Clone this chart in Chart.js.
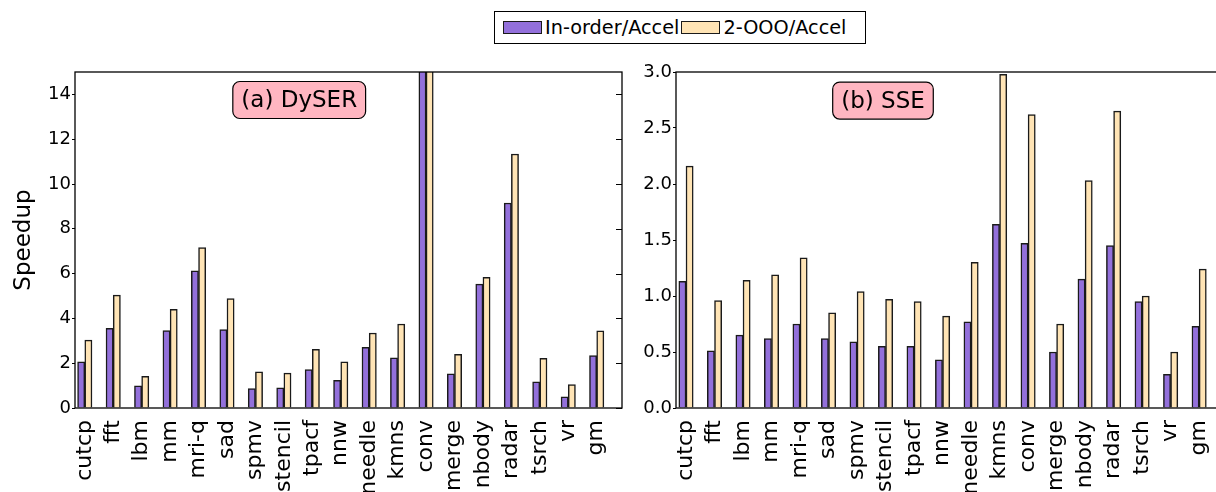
<!DOCTYPE html>
<html>
<head>
<meta charset="utf-8">
<script src="https://cdn.jsdelivr.net/npm/chart.js@4/dist/chart.umd.min.js"></script>
<style>
  html, body { margin: 0; padding: 0; background: #fff; overflow: hidden; }
  body { width: 1216px; height: 492px; position: relative; font-family: 'DejaVu Sans', sans-serif; }
  #dyserChart { position: absolute; left: 0; top: 0; }
  #sseChart { position: absolute; left: 630px; top: 0; }
  #legend {
    position: absolute; left: 494px; top: 11px; width: 372px; height: 33px;
    box-sizing: border-box; border: 1px solid #000; background: #fff;
    display: flex; align-items: center; padding-left: 8px;
    font-size: 19.3px; color: #000; white-space: nowrap;
  }
  #legend .swatch { display: inline-block; width: 37px; height: 11px; border: 1.5px solid #1a1a1a; margin-right: 3px; }
  #legend .item { display: flex; align-items: center; margin-right: 2px; }
</style>
</head>
<body>
<div id="legend"></div>
<canvas id="dyserChart" width="640" height="492"></canvas>
<canvas id="sseChart" width="615" height="492"></canvas>
<script>
// benchmarks, same order in both panels
const benchmarks = ['cutcp', 'fft', 'lbm', 'mm', 'mri-q', 'sad', 'spmv', 'stencil', 'tpacf', 'nnw',
  'needle', 'kmns', 'conv', 'merge', 'nbody', 'radar', 'tsrch', 'vr', 'gm'];

const seriesNames = ['In-order/Accel', '2-OOO/Accel'];
const seriesColors = ['#9370DB', '#FFE4B5'];

// (a) DySER -- conv goes off the top of the axis (clipped at 15)
const dyserInOrder = [2.06, 3.56, 0.99, 3.46, 6.12, 3.50, 0.87, 0.90, 1.72, 1.23,
  2.71, 2.24, 20.0, 1.53, 5.53, 9.15, 1.17, 0.50, 2.34];
const dyserOoo = [3.03, 5.04, 1.41, 4.40, 7.16, 4.89, 1.62, 1.56, 2.62, 2.06,
  3.35, 3.75, 24.0, 2.40, 5.83, 11.34, 2.22, 1.05, 3.44];

// (b) SSE
const sseInOrder = [1.13, 0.51, 0.65, 0.62, 0.75, 0.62, 0.59, 0.55, 0.55, 0.43,
  0.77, 1.64, 1.47, 0.50, 1.15, 1.45, 0.95, 0.30, 0.73];
const sseOoo = [2.16, 0.96, 1.14, 1.19, 1.34, 0.85, 1.04, 0.97, 0.95, 0.82,
  1.30, 2.98, 2.62, 0.75, 2.03, 2.65, 1.00, 0.50, 1.24];

// y tick values
const dyserTicks = [0, 2, 4, 6, 8, 10, 12, 14];
const sseTicks = [0, 0.5, 1.0, 1.5, 2.0, 2.5, 3.0];

const edge = '#1a1a1a';
const font = "'DejaVu Sans'";

// legend shared by both panels
const legendEl = document.getElementById('legend');
seriesNames.forEach((name, i) => {
  const item = document.createElement('span');
  item.className = 'item';
  item.innerHTML = '<span class="swatch" style="background:' + seriesColors[i] + '"></span>' + name;
  legendEl.appendChild(item);
});

// axes frame, inner right ticks and the pink panel label
const framePlugin = {
  id: 'frame',
  afterDatasetsDraw(chart, args, opts) {
    const { ctx, chartArea: a, scales: { x, y } } = chart;
    ctx.save();
    ctx.strokeStyle = '#000';
    ctx.lineWidth = 1;
    y.ticks.forEach(t => {
      const py = Math.round(y.getPixelForValue(t.value)) + 0.5;
      ctx.beginPath();
      ctx.moveTo(a.right - 6, py);
      ctx.lineTo(a.right, py);
      ctx.stroke();
    });
    ctx.lineWidth = 1.3;
    ctx.strokeRect(a.left, a.top, a.right - a.left, a.bottom - a.top);

    ctx.font = '23px ' + font;
    const w = ctx.measureText(opts.text).width + 17;
    const h = 37, r = 7;
    const cx = x.getPixelForValue(opts.x), cy = y.getPixelForValue(opts.y);
    const bx = cx - w / 2, by = cy - h / 2;
    ctx.beginPath();
    ctx.moveTo(bx + r, by);
    ctx.arcTo(bx + w, by, bx + w, by + h, r);
    ctx.arcTo(bx + w, by + h, bx, by + h, r);
    ctx.arcTo(bx, by + h, bx, by, r);
    ctx.arcTo(bx, by, bx + w, by, r);
    ctx.closePath();
    ctx.fillStyle = '#FFB6C1';
    ctx.fill();
    ctx.lineWidth = 1.2;
    ctx.stroke();
    ctx.fillStyle = '#000';
    ctx.textAlign = 'center';
    ctx.textBaseline = 'middle';
    ctx.fillText(opts.text, cx, cy + 1);
    ctx.restore();
  }
};

function toPoints(values) {
  return values.map((v, i) => ({ x: i, y: v }));
}

function makePanel(canvasId, inOrder, ooo, yMax, yTicks, opt) {
  return new Chart(document.getElementById(canvasId).getContext('2d'), {
    type: 'bar',
    data: {
      datasets: [
        { label: seriesNames[0], data: toPoints(inOrder), backgroundColor: seriesColors[0],
          borderColor: edge, borderWidth: 1.5, barThickness: 7.2 },
        { label: seriesNames[1], data: toPoints(ooo), backgroundColor: seriesColors[1],
          borderColor: edge, borderWidth: 1.5, barThickness: 7.2 }
      ]
    },
    options: {
      responsive: false,
      animation: false,
      events: [],
      layout: { padding: { top: 72, right: opt.padRight, left: 0, bottom: 0 } },
      plugins: {
        legend: { display: false },
        tooltip: { enabled: false },
        frame: { text: opt.label, x: opt.labelX, y: opt.labelY }
      },
      scales: {
        x: {
          type: 'linear',
          offset: false,
          min: opt.xMin,
          max: opt.xMax,
          grid: { display: false },
          border: { display: false },
          afterBuildTicks: scale => { scale.ticks = benchmarks.map((b, i) => ({ value: i })); },
          afterFit: scale => { scale.height = 84; },
          ticks: {
            autoSkip: false,
            minRotation: 90,
            maxRotation: 90,
            padding: 4,
            color: '#000',
            font: { family: font, size: 22 },
            callback: v => benchmarks[v]
          }
        },
        y: {
          min: 0,
          max: yMax,
          grid: { display: true, drawOnChartArea: false, drawTicks: true, tickLength: 3, color: '#000' },
          border: { display: false },
          afterBuildTicks: scale => { scale.ticks = yTicks.map(v => ({ value: v })); },
          afterFit: scale => { scale.width = opt.yWidth; },
          title: {
            display: opt.yTitle !== '',
            text: opt.yTitle,
            color: '#000',
            font: { family: font, size: 23 },
            padding: { top: 10, bottom: 0 }
          },
          ticks: {
            padding: 1,
            color: '#000',
            font: { family: font, size: 18 },
            callback: opt.tickFormat
          }
        }
      }
    },
    plugins: [framePlugin]
  });
}

makePanel('dyserChart', dyserInOrder, dyserOoo, 15, dyserTicks, {
  padRight: 18, yWidth: 75, xMin: -0.344, xMax: 18.89, yTitle: 'Speedup',
  label: '(a) DySER', labelX: 7.54, labelY: 13.75, tickFormat: v => String(v)
});

makePanel('sseChart', sseInOrder, sseOoo, 3, sseTicks, {
  padRight: 20.5, yWidth: 46, xMin: -0.351, xMax: 18.89, yTitle: '',
  label: '(b) SSE', labelX: 6.91, labelY: 2.745, tickFormat: v => v.toFixed(1)
});
</script>
</body>
</html>
